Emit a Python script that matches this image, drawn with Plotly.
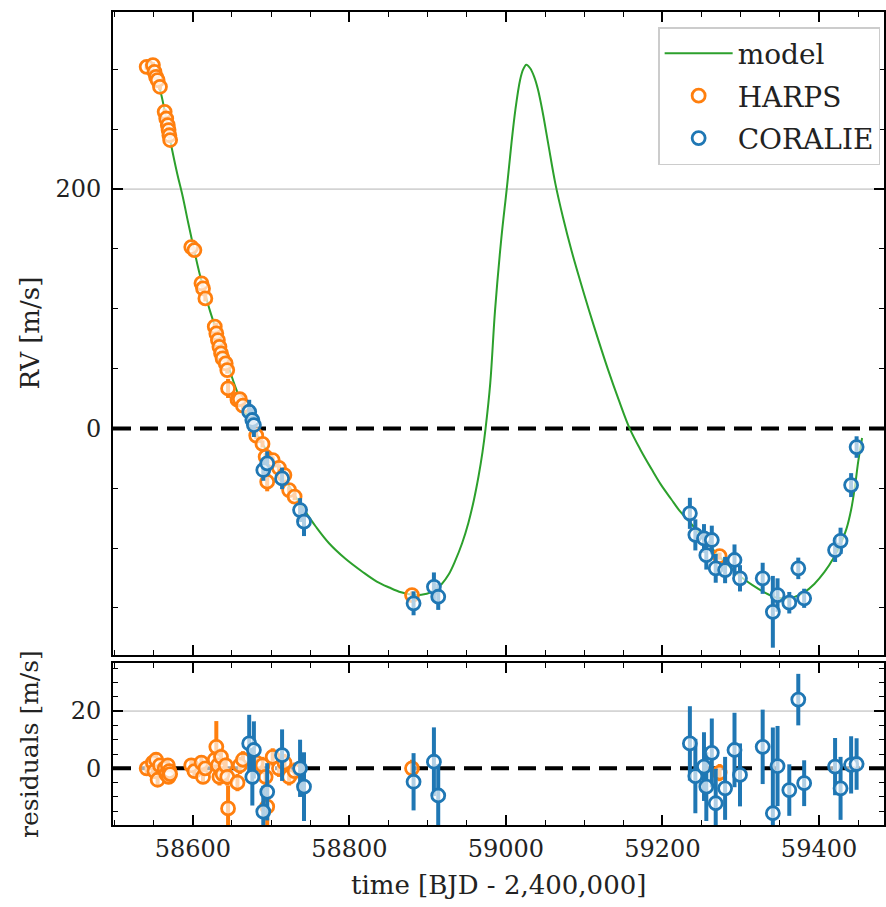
import plotly.graph_objects as go

# model curve
MODEL_T = [58540, 58545, 58550, 58555, 58560, 58565, 58571, 58580, 58587, 58594,
           58601, 58608, 58615, 58622, 58630, 58638, 58645, 58652, 58660, 58668,
           58677, 58688, 58698, 58710, 58720, 58730, 58740, 58757, 58774, 58795,
           58817, 58835, 58851, 58866, 58880, 58892, 58904, 58918, 58927, 58935,
           58944, 58952, 58959, 58965, 58970, 58974, 58980, 58986, 58994, 59001,
           59007, 59012, 59018, 59022, 59026, 59031, 59036, 59041, 59047, 59054,
           59063, 59073, 59084, 59095, 59106, 59118, 59130, 59144, 59158, 59172,
           59186, 59198, 59211, 59222, 59233, 59250, 59267, 59283, 59300, 59315,
           59330, 59343, 59356, 59368, 59381, 59394, 59407, 59418, 59428, 59435,
           59441, 59446, 59450, 59455]
MODEL_RV = [305, 304, 299, 290, 278, 262, 241, 213, 194, 172,
            151, 131, 114, 98, 82, 67, 53, 39, 25, 12,
            0, -12, -22, -34, -45, -56, -66, -82, -96, -109,
            -120, -128, -133, -137, -139, -139, -137, -130, -122, -111,
            -96, -79, -60, -40, -20, 0, 38, 98, 158, 200,
            238, 266, 291, 300, 304, 301, 294, 283, 264, 238,
            205, 176, 148, 123, 99, 74, 50, 24, 0, -18,
            -34, -47, -59, -69, -77, -90, -103, -114, -124, -131,
            -137, -141, -142, -141, -137, -130, -120, -109, -96, -84,
            -68, -48, -28, -8]

HARPS_T = [58541, 58549, 58551, 58553, 58555, 58558, 58564, 58566, 58568, 58569,
           58570, 58571, 58598, 58602, 58611, 58613, 58616, 58628, 58630, 58632,
           58634, 58636, 58638, 58642, 58644, 58645, 58657, 58660, 58664, 58681,
           58689, 58693, 58695, 58702, 58710, 58717, 58723, 58730, 58880, 59273]
HARPS_RV = [302.2, 303.6, 298.0, 293.8, 291.0, 285.5, 264.6, 259.0, 253.4, 249.3,
            245.0, 241.0, 151.5, 149.0, 121.2, 117.0, 108.6, 85.0, 79.4, 73.8,
            68.2, 62.7, 58.5, 54.3, 48.7, 33.4, 24.0, 24.5, 19.0, -6.0,
            -13.0, -23.7, -44.6, -26.5, -33.0, -39.0, -51.6, -57.0, -139.3, -106.7]
HARPS_ERR = [2.5, 2.5, 2.5, 2.5, 2.5, 2.5, 2.5, 2.5, 2.5, 2.5,
             2.5, 2.5, 2.5, 2.5, 2.5, 2.5, 2.5, 3, 9, 3,
             3, 3, 3, 3, 3, 8, 3, 3, 3, 3,
             3, 3, 8, 3, 3, 3, 3, 3, 3, 3]
HARPS_RES = [0, 2, -1, 3, -4, 1, 0, -2, 1, -3,
             -1, -2, 1, -1, 2, -3, 0, 3, 7.5, 1,
             -3, 4, -2, 1, -3, -14, -5, 1, 3, 2,
             1, -3, -13.4, 4, 0, 2, -3, -1, 0, -1.5]

CORALIE_T = [58672, 58676, 58678, 58690, 58695, 58714, 58737, 58742, 58882, 58908,
             58913.5, 59235, 59242, 59253, 59256, 59263, 59268, 59280, 59292, 59299,
             59328, 59341, 59347, 59362, 59373.5, 59381, 59420.5, 59427.5, 59441, 59448]
CORALIE_RV = [13.9, 7.0, 2.8, -34.8, -29.2, -41.8, -68.3, -78.0, -146.2, -132.4,
              -140.7, -71.0, -89.0, -92.0, -106.0, -93.3, -117.0, -118.4, -110.0, -125.3,
              -125.3, -153.3, -139.3, -145.7, -117.0, -142.0, -101.7, -94.0, -47.4, -15.6]
CORALIE_ERR = [10, 10, 10, 9, 10, 9, 10, 12, 10, 12,
               11, 13, 13, 12, 12, 12, 12, 11, 13, 11,
               13, 30, 14, 9, 9, 8, 10, 11, 10, 9]
CORALIE_RES = [8.7, -3.0, 6.4, -15.1, -8.2, 4.6, 0.0, -6.4, -4.7, 2.3,
               -9.5, 8.7, -2.7, 0.6, -6.4, 5.4, -12.2, -7.0, 6.4, -2.3,
               7.5, -15.7, 0.8, -7.6, 24.0, -5.2, 0.6, -7.0, 1.2, 1.5]

ORANGE = '#ff7f0e'
BLUE = '#1f77b4'
GREEN = '#2ca02c'
FONT = 'DejaVu Serif'


def points(t, y, err, color, name, xa, ya, legend):
    return go.Scatter(
        x=t, y=y, mode='markers', name=name, xaxis=xa, yaxis=ya,
        showlegend=legend, legendgroup=name,
        marker=dict(size=13, color='rgba(255,255,255,0.65)',
                    line=dict(color=color, width=2.8)),
        error_y=dict(type='data', array=err, color=color, thickness=4, width=0),
    )


def hline(xref, yref, y, color, width, dash):
    # horizontal reference line across a whole panel
    return dict(type='line', xref=xref, yref=yref, x0=0, x1=1, y0=y, y1=y,
                layer='below', line=dict(color=color, width=width, dash=dash))


fig = go.Figure()
fig.add_trace(go.Scatter(x=MODEL_T, y=MODEL_RV, mode='lines', name='model',
                         legendgroup='model', xaxis='x', yaxis='y',
                         line=dict(color=GREEN, width=2, shape='spline', smoothing=1.0)))
fig.add_trace(points(HARPS_T, HARPS_RV, HARPS_ERR, ORANGE, 'HARPS', 'x', 'y', True))
fig.add_trace(points(CORALIE_T, CORALIE_RV, CORALIE_ERR, BLUE, 'CORALIE', 'x', 'y', True))
fig.add_trace(points(HARPS_T, HARPS_RES, HARPS_ERR, ORANGE, 'HARPS', 'x2', 'y2', False))
fig.add_trace(points(CORALIE_T, CORALIE_RES, CORALIE_ERR, BLUE, 'CORALIE', 'x2', 'y2', False))

axis_common = dict(
    showline=True, linecolor='black', linewidth=1.8, mirror='allticks',
    ticks='inside', ticklen=10, tickwidth=1.8, tickcolor='black', automargin=False,
    zeroline=False, showgrid=False, tickfont=dict(family=FONT, size=24, color='#222'),
)
x_common = dict(axis_common, range=[58498, 59483], tick0=58600, dtick=200, tickformat='d',
                minor=dict(dtick=50, ticks='inside', ticklen=5, tickwidth=1.2,
                           tickcolor='black', showgrid=False))

fig.update_layout(
    width=886, height=907,
    margin=dict(l=113, r=2, t=12, b=82),
    plot_bgcolor='white', paper_bgcolor='white',
    font=dict(family=FONT, size=24, color='#222'),
    xaxis=dict(x_common, anchor='y', showticklabels=False, matches='x2'),
    xaxis2=dict(x_common, anchor='y2', ticklabelstandoff=1),
    yaxis=dict(axis_common, domain=[0.2091, 1], range=[-189.4, 348], tick0=0, dtick=200,
               ticklabelstandoff=5,
               minor=dict(dtick=50, ticks='inside', ticklen=5, tickwidth=1.2,
                          tickcolor='black', showgrid=False)),
    yaxis2=dict(axis_common, domain=[0, 0.1993], range=[-19.8, 36.8], tick0=0, dtick=20,
                ticklabelstandoff=5,
                minor=dict(dtick=5, ticks='inside', ticklen=5, tickwidth=1.2,
                           tickcolor='black', showgrid=False)),
    legend=dict(x=0.995, y=0.9815, xanchor='right', yanchor='top', itemwidth=68,
                bgcolor='rgba(255,255,255,0.85)', bordercolor='#cccccc', borderwidth=1.5,
                font=dict(family=FONT, size=28, color='#222'), tracegroupgap=3),
    shapes=[
        hline('x domain', 'y', 200, '#b3b3b3', 1, 'solid'),
        hline('x2 domain', 'y2', 20, '#b3b3b3', 1, 'solid'),
        hline('x domain', 'y', 0, 'black', 4, '18px,9px'),
        hline('x2 domain', 'y2', 0, 'black', 4, '18px,9px'),
    ],
    annotations=[
        dict(text='RV [m/s]', xref='paper', yref='paper', x=0, y=0.6046, xshift=-83,
             xanchor='center', yanchor='middle', textangle=-90, showarrow=False,
             font=dict(family=FONT, size=26, color='#222')),
        dict(text='residuals [m/s]', xref='paper', yref='paper', x=0, y=0.0997, xshift=-83,
             xanchor='center', yanchor='middle', textangle=-90, showarrow=False,
             font=dict(family=FONT, size=25, color='#222')),
        dict(text='time [BJD - 2,400,000]', xref='paper', yref='paper', x=0.5, y=0,
             yshift=-60, xanchor='center', yanchor='middle', showarrow=False,
             font=dict(family=FONT, size=26, color='#222')),
    ],
)

fig.write_html("out.html", config={'displayModeBar': False},
               post_script="document.body.style.margin='0';")
